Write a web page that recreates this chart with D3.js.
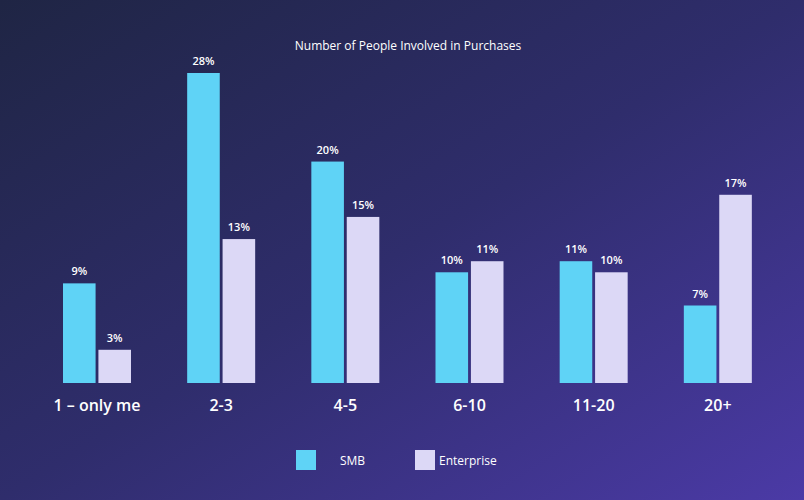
<!DOCTYPE html>
<html><head><meta charset="utf-8">
<script src="https://cdn.jsdelivr.net/npm/d3@7"></script>
<style>body{margin:0;}svg{display:block;font-family:"Open Sans",sans-serif;}</style>
</head><body>
<svg id="c" width="804" height="500"></svg>
<script>
const categories = ["1 \u2013 only me","2-3","4-5","6-10","11-20","20+"];
const seriesNames = ["SMB","Enterprise"];
const smb = [9,28,20,10,11,7];
const enterprise = [3,13,15,11,10,17];
const colors = ["#5fd3f6","#dcd8f6"];

const svg = d3.select("#c");
const defs = svg.append("defs");
const g = defs.append("linearGradient").attr("id","bg").attr("x1","0").attr("y1","0").attr("x2","1").attr("y2","1");
g.append("stop").attr("offset","0").attr("stop-color","#1f2544");
g.append("stop").attr("offset","0.5").attr("stop-color","#2f2d6c");
g.append("stop").attr("offset","1").attr("stop-color","#4b3aa6");
svg.append("rect").attr("width",804).attr("height",500).attr("fill","url(#bg)");

svg.append("text").attr("x",408).attr("y",50).attr("text-anchor","middle")
  .attr("fill","#fff").attr("font-size",12).text("Number of People Involved in Purchases");

const x = d3.scaleBand().domain(categories).range([35,780]).paddingInner(0.0).paddingOuter(0);
const x1 = d3.scaleBand().domain(seriesNames).range([28,96]).paddingInner(0.08);
const y = d3.scaleLinear().domain([0,28]).range([383,73]);
const data = [smb, enterprise];

categories.forEach((c,i)=>{
  seriesNames.forEach((s,j)=>{
    const v = data[j][i];
    const bx = x(c)+x1(s);
    svg.append("rect").attr("x",bx).attr("y",y(v)).attr("width",x1.bandwidth())
      .attr("height",y(0)-y(v)).attr("fill",colors[j]);
    svg.append("text").attr("x",bx+x1.bandwidth()/2).attr("y",y(v)-8)
      .attr("text-anchor","middle").attr("fill","#fff").attr("font-size",11).attr("font-weight",600)
      .text(v+"%");
  });
  svg.append("text").attr("x",x(c)+62).attr("y",411).attr("text-anchor","middle")
    .attr("fill","#fff").attr("font-size",16).attr("font-weight",600).text(c);
});

const legX = [296,415];
seriesNames.forEach((s,j)=>{
  svg.append("rect").attr("x",legX[j]).attr("y",450).attr("width",20).attr("height",20).attr("fill",colors[j]);
  svg.append("text").attr("x",legX[j]+(j?24:44)).attr("y",465).attr("fill","#fff")
    .attr("font-size",12).text(s);
});
</script>
</body></html>
